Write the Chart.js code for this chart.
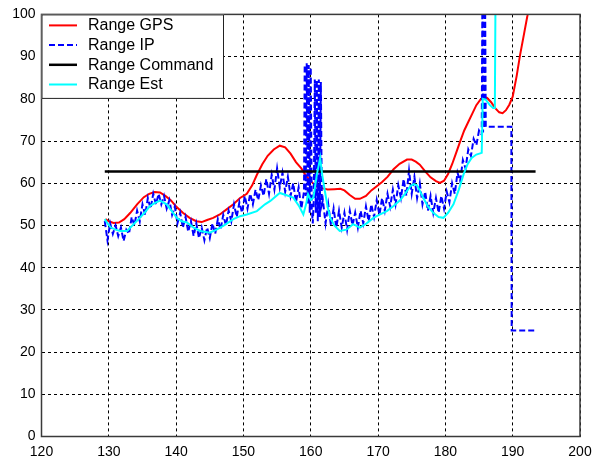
<!DOCTYPE html>
<html>
<head>
<meta charset="utf-8">
<script src="https://cdn.jsdelivr.net/npm/chart.js@4/dist/chart.umd.min.js"></script>
<style>
    html, body { margin: 0; padding: 0; background: #ffffff; }
    #rangePlot { display: block; }
</style>
</head>
<body>
<canvas id="rangePlot" width="592" height="462"></canvas>
<script>
// ========================================
// DATA
// ========================================

const xTicks = [120, 130, 140, 150, 160, 170, 180, 190, 200];
const yTicks = [0, 10, 20, 30, 40, 50, 60, 70, 80, 90, 100];

// Range GPS
const gpsTime = [
    129.5, 130.0, 130.7, 131.5, 132.3, 133.2, 134.2, 135.2, 136.0, 136.8,
    137.6, 138.4, 139.2, 140.0, 141.0, 142.0, 143.0, 143.8, 144.6, 145.5,
    146.5, 147.5, 148.5, 149.5, 150.5, 151.3, 152.0, 152.8, 153.6, 154.5,
    155.4, 156.2, 157.0, 157.8, 158.6, 159.2, 160.0, 160.8, 161.5, 162.5,
    163.5, 164.4, 165.0, 165.8, 166.6, 167.3, 168.2, 169.0, 169.8, 170.6,
    171.4, 172.3, 173.2, 174.3, 175.0, 175.6, 176.2, 177.0, 177.8, 178.6,
    179.2, 179.8, 180.4, 181.0, 181.6, 182.2, 182.8, 183.4, 184.0, 184.6,
    185.2, 185.7, 186.2, 186.8, 187.4, 188.0, 188.5, 189.0, 189.5, 190.0,
    190.6, 191.1, 191.7, 192.2, 192.5
];
const gpsRange = [
    51.5, 51.0, 50.6, 50.7, 51.5, 53.0, 55.0, 56.7, 57.5, 57.9,
    57.8, 57.0, 56.0, 54.5, 53.0, 51.8, 51.0, 50.8, 51.3, 51.8,
    52.6, 53.8, 55.0, 56.5, 57.5, 59.5, 62.0, 64.5, 66.5, 68.0,
    68.9, 68.5, 67.0, 65.0, 63.5, 62.0, 60.5, 59.3, 58.9, 58.5,
    58.6, 58.7, 58.3, 57.2, 56.3, 56.3, 57.0, 58.3, 59.3, 60.3,
    61.5, 63.3, 64.6, 65.6, 65.6, 65.1, 64.4, 62.8, 61.4, 60.5,
    60.1, 60.6, 62.2, 64.5, 67.2, 69.9, 72.5, 74.5, 76.5, 78.5,
    79.8, 80.5, 80.2, 79.2, 77.8, 76.8, 76.6, 77.3, 78.6, 80.5,
    85.5, 90.4, 95.5, 99.8, 103.0
];

// Range IP (noisy measurement, with dropouts)
const ipTime = [
    129.4, 129.8, 130.2, 130.6, 131.0, 131.4, 131.8, 132.2, 132.6, 133.0,
    133.4, 133.8, 134.2, 134.6, 135.0, 135.4, 135.8, 136.2, 136.6, 137.0,
    137.4, 137.8, 138.2, 138.6, 139.0, 139.4, 139.8, 140.2, 140.6, 141.0,
    141.4, 141.8, 142.2, 142.6, 143.0, 143.4, 143.8, 144.2, 144.6, 145.0,
    145.4, 145.8, 146.2, 146.6, 147.0, 147.4, 147.8, 148.2, 148.6, 149.0,
    149.4, 149.8, 150.2, 150.6, 151.0, 151.4, 151.8, 152.2, 152.6, 153.0,
    153.4, 153.8, 154.2, 154.6, 155.0, 155.4, 155.8, 156.2, 156.6, 157.0,
    157.4, 157.8, 158.2, 158.6, 159.0,
    159.1, 159.25, 159.4, 159.55, 159.7, 159.85, 160.0, 160.15, 160.3, 160.45,
    160.6, 160.75, 160.9, 161.05, 161.2, 161.35, 161.5, 161.65,
    161.8, 162.2, 162.6, 163.0, 163.4, 163.8, 164.2, 164.6, 165.0, 165.4,
    165.8, 166.2, 166.6, 167.0, 167.4, 167.8, 168.2, 168.6, 169.0, 169.4,
    169.8, 170.2, 170.6, 171.0, 171.4, 171.8, 172.2, 172.6, 173.0, 173.4,
    173.8, 174.2, 174.6, 175.0, 175.4, 175.8, 176.2, 176.6, 177.0, 177.4,
    177.8, 178.2, 178.6, 179.0, 179.4, 179.8, 180.2, 180.6, 181.0, 181.4,
    181.8, 182.2, 182.6, 183.0, 183.4, 183.8, 184.2, 184.6, 185.0, 185.4,
    185.5, 185.6, 185.7, 185.8, 185.9, 186.0, 189.8, 189.85, 193.4
];
const ipRange = [
    51.0, 46.5, 50.5, 48.0, 50.0, 47.5, 49.5, 46.3, 49.0, 48.0,
    52.0, 50.0, 53.5, 51.0, 55.0, 52.5, 56.5, 54.0, 57.5, 55.0,
    57.5, 55.0, 57.0, 54.0, 56.0, 52.5, 54.5, 50.5, 53.0, 49.5,
    52.0, 48.5, 51.0, 47.5, 50.5, 47.0, 49.5, 46.5, 49.5, 47.0,
    50.5, 48.0, 51.5, 49.0, 52.5, 50.0, 53.5, 51.0, 55.0, 52.0,
    55.5, 53.0, 57.0, 54.0, 57.5, 55.0, 58.5, 56.0, 59.5, 57.0,
    61.0, 57.5, 62.0, 58.5, 63.5, 59.0, 62.5, 58.0, 61.5, 57.0,
    60.0, 55.5, 59.0, 54.0, 58.0,
    88.0, 57.0, 88.4, 55.0, 88.0, 53.0, 87.5, 54.0, 50.5, 56.0,
    84.6, 53.0, 84.5, 51.0, 84.6, 52.0, 84.0, 55.0,
    56.0, 50.5, 55.0, 50.0, 54.0, 49.5, 53.5, 49.5, 53.0, 49.0,
    53.5, 50.0, 53.0, 49.5, 53.5, 50.5, 54.5, 51.0, 55.0, 52.0,
    56.0, 52.5, 56.5, 53.5, 57.5, 54.5, 58.5, 55.0, 59.5, 56.5,
    61.0, 57.0, 63.0, 57.5, 61.5, 56.5, 60.0, 55.0, 58.0, 53.5,
    57.0, 53.0, 56.5, 53.0, 57.0, 54.0, 58.0, 55.5, 60.0, 57.5,
    62.5, 60.5, 65.5, 63.5, 68.0, 66.5, 70.5, 69.0, 72.5, 71.5,
    105.0, 72.0, 105.0, 73.0, 105.0, 73.4, 73.4, 25.1, 25.1
];

// Range Command
const cmdTime = [129.4, 193.4];
const cmdRange = [62.8, 62.8];

// Range Est
const estTime = [
    129.4, 129.8, 130.3, 131.0, 131.7, 132.7, 133.5, 134.6, 135.3, 136.1,
    136.8, 137.6, 138.6, 139.3, 140.1, 140.8, 141.6, 142.6, 143.6, 145.0,
    146.0, 147.0, 148.5, 149.5, 150.5, 152.0, 153.2, 154.0, 155.4, 156.3,
    157.4, 158.3, 158.9, 159.3, 159.6, 160.0, 160.4, 160.9, 161.4, 161.7,
    162.1, 162.5, 162.9, 163.5, 164.3, 165.3, 166.3, 167.3, 168.3, 169.3,
    170.3, 171.3, 172.3, 173.3, 174.0, 174.8, 175.3, 175.8, 176.7, 177.4,
    178.2, 179.0, 179.7, 180.4, 181.2, 182.0, 182.7, 183.3, 183.9, 184.6,
    185.4, 185.55, 186.0, 186.6, 187.1, 187.35, 187.45
];
const estRange = [
    51.5, 50.5, 49.5, 49.0, 48.7, 48.7, 50.0, 51.8, 53.0, 54.6,
    55.3, 55.9, 55.0, 53.5, 51.8, 51.0, 50.7, 49.5, 48.7, 48.3,
    49.0, 49.9, 51.5, 52.2, 52.6, 53.4, 55.0, 55.8, 57.7, 57.2,
    56.6, 54.5, 52.6, 55.0, 57.4, 56.0, 56.6, 62.0, 66.0, 62.0,
    58.1, 54.5, 51.8, 50.0, 48.7, 49.0, 50.3, 49.5, 50.5, 51.8,
    52.6, 53.4, 54.6, 56.0, 57.5, 59.3, 59.8, 59.5, 56.6, 54.5,
    53.0, 52.0, 51.8, 53.0, 55.0, 58.5, 62.1, 64.5, 66.0, 66.8,
    67.2, 80.0, 79.8, 78.5, 77.8, 77.8, 105.0
];

const SERIES = [
    { label: 'Range GPS',     time: gpsTime, range: gpsRange, color: '#ff0000', width: 2,   dash: [],     order: 3 },
    { label: 'Range IP',      time: ipTime,  range: ipRange,  color: '#0000ff', width: 2,   dash: [6, 3], order: 2 },
    { label: 'Range Command', time: cmdTime, range: cmdRange, color: '#000000', width: 2.5, dash: [],     order: 1 },
    { label: 'Range Est',     time: estTime, range: estRange, color: '#00ffff', width: 2,   dash: [],     order: 0 }
];

const FONT = "'Liberation Sans', Arial, sans-serif";

// ========================================
// PLUGINS
// ========================================

// Axes box drawn over the plot, MATLAB style
const axesBox = {
    id: 'axesBox',
    afterDatasetsDraw(chart) {
        const { ctx, chartArea: a } = chart;
        ctx.save();
        ctx.strokeStyle = '#3a3a3a';
        ctx.lineWidth = 1.5;
        ctx.strokeRect(a.left, a.top, a.right - a.left, a.bottom - a.top);
        ctx.restore();
    }
};

// Legend box in the upper left corner of the axes
const boxLegend = {
    id: 'boxLegend',
    afterDraw(chart) {
        const { ctx, chartArea: a } = chart;
        const x = a.left, y = a.top;
        const w = 182.5, h = 84.5;
        ctx.save();
        ctx.fillStyle = '#ffffff';
        ctx.fillRect(x, y, w, h);
        ctx.strokeStyle = '#222222';
        ctx.lineWidth = 1;
        ctx.strokeRect(x + 0.5, y + 0.5, w - 1, h - 1);

        ctx.font = '16px ' + FONT;
        ctx.textBaseline = 'middle';
        SERIES.forEach((s, i) => {
            const rowY = y + 11 + i * 19.7;
            ctx.strokeStyle = s.color;
            ctx.lineWidth = s.width;
            ctx.setLineDash(s.dash);
            ctx.beginPath();
            ctx.moveTo(x + 7.5, rowY);
            ctx.lineTo(x + 35.5, rowY);
            ctx.stroke();
            ctx.setLineDash([]);
            ctx.fillStyle = '#000000';
            ctx.fillText(s.label, x + 46.5, rowY + 0.5);
        });
        ctx.restore();
    }
};

// ========================================
// CHART
// ========================================

const datasets = SERIES.map(s => ({
    label: s.label,
    data: s.time.map((t, i) => ({ x: t, y: s.range[i] })),
    borderColor: s.color,
    backgroundColor: s.color,
    borderWidth: s.width,
    borderDash: s.dash,
    pointRadius: 0,
    tension: 0,
    fill: false,
    order: s.order
}));

// dotted grid (the dash lives on border in v4)
const gridStyle = {
    color: '#000000',
    lineWidth: 1,
    drawTicks: false
};
const gridBorder = { display: true, color: '#3a3a3a', dash: [3, 3] };

new Chart(document.getElementById('rangePlot'), {
    type: 'line',
    data: { datasets },
    options: {
        responsive: false,
        animation: false,
        devicePixelRatio: 1,
        layout: {
            padding: { top: 12.5, right: 12, bottom: 0, left: 0 }
        },
        plugins: {
            legend: { display: false },
            tooltip: { enabled: false }
        },
        scales: {
            x: {
                type: 'linear',
                min: xTicks[0],
                max: xTicks[xTicks.length - 1],
                afterBuildTicks(scale) {
                    scale.ticks = xTicks.map(v => ({ value: v }));
                },
                afterFit(scale) {
                    // fixed axis band; the end labels may overhang into the padding
                    scale.height = 25.5;
                    scale.paddingLeft = 0;
                    scale.paddingRight = 0;
                },
                grid: gridStyle,
                border: gridBorder,
                ticks: {
                    autoSkip: false,
                    maxRotation: 0,
                    padding: 7,
                    color: '#000000',
                    font: { family: FONT, size: 14 }
                }
            },
            y: {
                type: 'linear',
                min: yTicks[0],
                max: yTicks[yTicks.length - 1],
                afterBuildTicks(scale) {
                    scale.ticks = yTicks.map(v => ({ value: v }));
                },
                afterFit(scale) {
                    scale.width = 41.5;
                },
                grid: gridStyle,
                border: gridBorder,
                ticks: {
                    autoSkip: false,
                    padding: 6,
                    color: '#000000',
                    font: { family: FONT, size: 14 }
                }
            }
        }
    },
    plugins: [axesBox, boxLegend]
});
</script>
</body>
</html>
